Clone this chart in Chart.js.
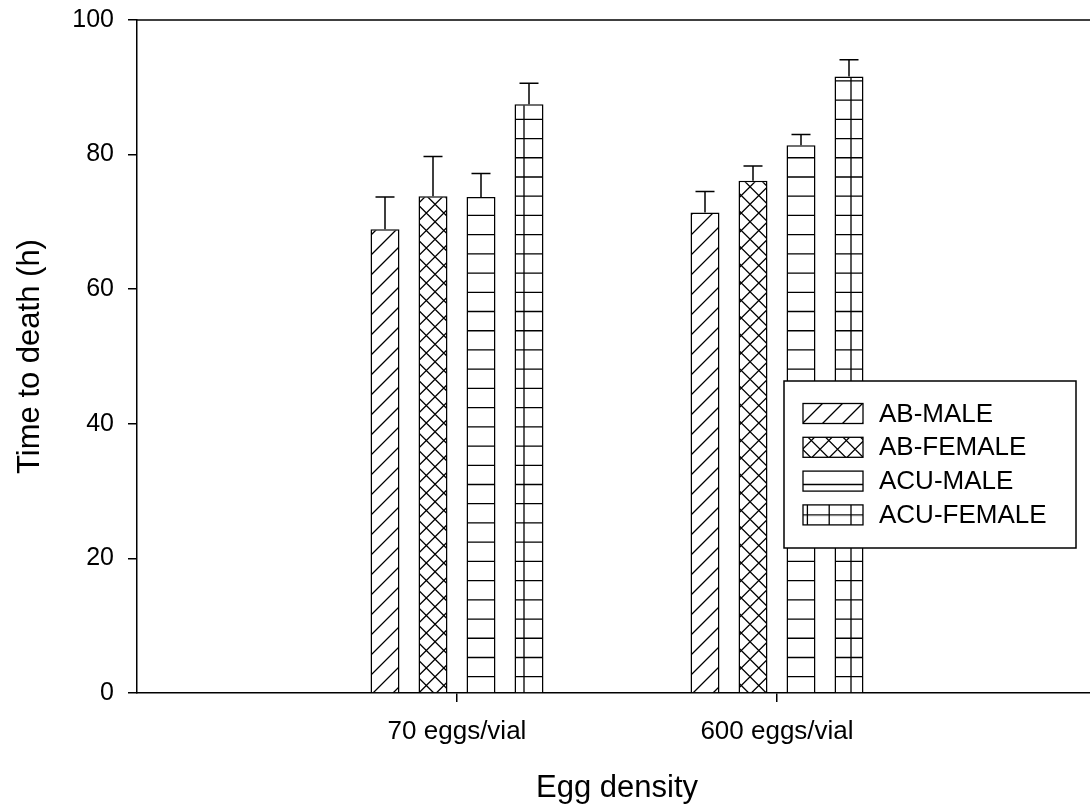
<!DOCTYPE html>
<html>
<head>
<meta charset="utf-8">
<script src="https://cdn.jsdelivr.net/npm/chart.js@4.4.1/dist/chart.umd.min.js"></script>
<style>
  html, body { margin: 0; padding: 0; background: #fff; overflow: hidden; }
  canvas { display: block; }
</style>
</head>
<body>
<canvas id="chart" width="1100" height="809"></canvas>
<script>
// data
const categories = ['70 eggs/vial', '600 eggs/vial'];
const seriesNames = ['AB-MALE', 'AB-FEMALE', 'ACU-MALE', 'ACU-FEMALE'];
const abMale = [68.9, 71.4];
const abFemale = [73.8, 76.1];
const acuMale = [73.7, 81.4];
const acuFemale = [87.5, 91.6];
const abMaleErr = [4.8, 3.1];
const abFemaleErr = [5.9, 2.2];
const acuMaleErr = [3.5, 1.6];
const acuFemaleErr = [3.1, 2.5];
const yMin = 0, yMax = 100, yStep = 20;

const FONT = "'Liberation Sans', Arial, Helvetica, sans-serif";
const canvas = document.getElementById('chart');
const ctx = canvas.getContext('2d');

// hatch fills, anchored to the canvas origin
function hatch(kind) {
  const W = 1100, H = 809;
  const c = document.createElement('canvas');
  c.width = W; c.height = H;
  const g = c.getContext('2d');
  g.fillStyle = '#fff';
  g.fillRect(0, 0, W, H);
  g.strokeStyle = '#000';
  g.lineWidth = 1.3;
  g.beginPath();
  if (kind === 'diag') {
    for (let s = 6; s < W + H; s += 20) { g.moveTo(s, 0); g.lineTo(s - H, H); }
  }
  if (kind === 'cross') {
    for (let s = 9.3; s < W + H; s += 17.5) { g.moveTo(s, 0); g.lineTo(s - H, H); }
    for (let s = 7.3 - H - 17.5 * 50; s < W; s += 17.5) { g.moveTo(s, 0); g.lineTo(s + H, H); }
  }
  if (kind === 'horiz' || kind === 'grid') {
    for (let y = 4; y < H; y += 19.22) { g.moveTo(0, y); g.lineTo(W, y); }
  }
  if (kind === 'grid') {
    for (let x = 0.8; x < W; x += 21.8) { g.moveTo(x, 0); g.lineTo(x, H); }
  }
  g.stroke();
  return ctx.createPattern(c, 'no-repeat');
}

const fills = [hatch('diag'), hatch('cross'), hatch('horiz'), hatch('grid')];
const values = [abMale, abFemale, acuMale, acuFemale];
const errors = [abMaleErr, abFemaleErr, acuMaleErr, acuFemaleErr];

// empty slots at both ends so the two groups sit at 1/3 and 2/3 of the axis
const labels = [''].concat(categories, ['']);

const datasets = seriesNames.map((name, i) => ({
  label: name,
  data: [null].concat(values[i], [null]),
  errors: [null].concat(errors[i], [null]),
  backgroundColor: fills[i],
  borderColor: '#000',
  borderWidth: 1.5,
  categoryPercentage: 0.6,
  barPercentage: 0.604
}));

const errorBars = {
  id: 'errorBars',
  afterDatasetsDraw(chart) {
    const c = chart.ctx, y = chart.scales.y;
    c.save();
    c.strokeStyle = '#000';
    c.lineWidth = 1.5;
    chart.data.datasets.forEach((ds, i) => {
      chart.getDatasetMeta(i).data.forEach((bar, j) => {
        const v = ds.data[j], e = ds.errors[j];
        if (v == null || e == null) return;
        const top = y.getPixelForValue(v + e);
        c.beginPath();
        c.moveTo(bar.x, bar.y);
        c.lineTo(bar.x, top);
        c.moveTo(bar.x - 9.5, top);
        c.lineTo(bar.x + 9.5, top);
        c.stroke();
      });
    });
    c.restore();
  }
};

// shift of the hatch inside each legend swatch
const swatchShift = [0, 0, 0, 11.3];

const frameAndLegend = {
  id: 'frameAndLegend',
  afterDraw(chart) {
    const c = chart.ctx, a = chart.chartArea;
    c.save();
    c.strokeStyle = '#000';
    c.lineWidth = 1.5;
    c.beginPath();
    c.moveTo(a.left, a.top);
    c.lineTo(a.right, a.top);
    c.stroke();

    // legend box
    const bx = 784, by = 381, bw = 292, bh = 167;
    c.fillStyle = '#fff';
    c.fillRect(bx, by, bw, bh);
    c.strokeRect(bx, by, bw, bh);
    c.font = '26px ' + FONT;
    c.textBaseline = 'middle';
    c.textAlign = 'left';
    chart.data.datasets.forEach((ds, i) => {
      const cy = 413.5 + i * 33.8;
      const sh = swatchShift[i];
      c.save();
      c.translate(0, sh);
      c.fillStyle = ds.backgroundColor;
      c.fillRect(803, cy - 10 - sh, 60, 20);
      c.restore();
      c.lineWidth = 1.3;
      c.strokeRect(803, cy - 10, 60, 20);
      c.fillStyle = '#000';
      c.fillText(ds.label, 879, cy + 1);
    });
    c.restore();
  }
};

new Chart(ctx, {
  type: 'bar',
  data: { labels, datasets },
  options: {
    responsive: false,
    animation: false,
    layout: { padding: { top: 20, right: 3, left: 0, bottom: 0 } },
    plugins: {
      legend: { display: false },
      tooltip: { enabled: false }
    },
    scales: {
      x: {
        type: 'category',
        offset: false,
        afterFit: s => { s.height = 116; s.paddingLeft = 0; s.paddingRight = 0; },
        grid: {
          offset: false,
          drawOnChartArea: false,
          drawTicks: true,
          tickLength: 9,
          lineWidth: 1.5,
          color: c => (labels[c.index] ? '#000' : 'rgba(0,0,0,0)')
        },
        border: { display: true, color: '#000', width: 1.5 },
        ticks: {
          color: '#000',
          font: { family: FONT, size: 26 },
          padding: 14,
          maxRotation: 0,
          autoSkip: false
        },
        title: {
          display: true,
          text: 'Egg density',
          color: '#000',
          font: { family: FONT, size: 31 },
          padding: { top: 0, bottom: 2 }
        }
      },
      y: {
        min: yMin,
        max: yMax,
        afterFit: s => { s.width = 137; s.paddingTop = 0; s.paddingBottom = 0; },
        grid: {
          drawOnChartArea: false,
          drawTicks: true,
          tickLength: 9,
          lineWidth: 1.5,
          color: '#000'
        },
        border: { display: true, color: '#000', width: 1.5 },
        ticks: {
          stepSize: yStep,
          color: '#000',
          font: { family: FONT, size: 25 },
          padding: 14
        },
        title: {
          display: true,
          text: 'Time to death (h)',
          color: '#000',
          font: { family: FONT, size: 31 },
          padding: { top: 12, bottom: 0 }
        }
      }
    }
  },
  plugins: [errorBars, frameAndLegend]
});
</script>
</body>
</html>
